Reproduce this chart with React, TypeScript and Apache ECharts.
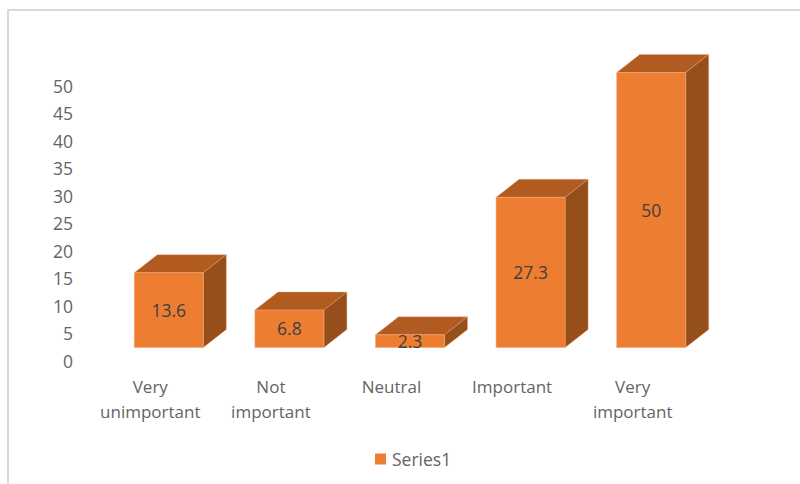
import React, { useEffect, useRef } from "react";
import * as echarts from "echarts";

const categories = ["Very\nunimportant", "Not\nimportant", "Neutral", "Important", "Very\nimportant"];
const seriesName = "Series1";
const seriesValues = [13.6, 6.8, 2.3, 27.3, 50];
const tickMax = 50;
const tickStep = 5;

const FONT = '"Open Sans", "Noto Sans", sans-serif';
const FRONT = "#ed7d31";
const TOP = "#b25b20";
const SIDE = "#964e1b";
const EDGE = "#f0a878";
const TICK_TEXT = "#646464";
const VALUE_TEXT = "#404040";

// Offsets of the front face from the axis position, and the box's depth.
const SHIFT_X = 18.5;
const SHIFT_Y = 13;
const DEPTH_X = 23;
const DEPTH_Y = 18;
const FRONT_WIDTH = 69;

function renderBox(params: any, api: any) {
  const [cx, baseY] = api.coord([api.value(0), 0]);
  const [, valueY] = api.coord([api.value(0), api.value(1)]);
  const x0 = cx + SHIFT_X - FRONT_WIDTH / 2;
  const x1 = x0 + FRONT_WIDTH;
  const y0 = valueY - SHIFT_Y;
  const y1 = baseY - SHIFT_Y;
  return {
    type: "group",
    children: [
      {
        type: "polygon",
        shape: { points: [[x0, y0], [x0 + DEPTH_X, y0 - DEPTH_Y], [x1 + DEPTH_X, y0 - DEPTH_Y], [x1, y0]] },
        style: { fill: TOP, stroke: EDGE, lineWidth: 0.4 },
      },
      {
        type: "polygon",
        shape: { points: [[x1, y0], [x1 + DEPTH_X, y0 - DEPTH_Y], [x1 + DEPTH_X, y1 - DEPTH_Y], [x1, y1]] },
        style: { fill: SIDE, stroke: EDGE, lineWidth: 0.4 },
      },
      {
        type: "rect",
        shape: { x: x0, y: y0, width: FRONT_WIDTH, height: y1 - y0 },
        style: { fill: FRONT, stroke: EDGE, lineWidth: 0.6 },
      },
      {
        type: "text",
        x: (x0 + x1) / 2,
        y: (y0 + y1) / 2 - 0.5,
        style: {
          text: String(api.value(1)),
          fill: VALUE_TEXT,
          font: `17.5px ${FONT}`,
          align: "center",
          verticalAlign: "middle",
        },
      },
    ],
  };
}

export default function App() {
  const ref = useRef<HTMLDivElement>(null);

  useEffect(() => {
    const chart = echarts.init(ref.current!, null, { renderer: "svg" });
    chart.setOption({
      animation: false,
      backgroundColor: "#ffffff",
      textStyle: { fontFamily: FONT },
      grid: { left: 90, width: 603, top: 85.5, height: 275 },
      xAxis: {
        type: "category",
        data: categories,
        axisLine: { show: false },
        axisTick: { show: false },
        axisLabel: { color: TICK_TEXT, fontFamily: FONT, fontSize: 17, lineHeight: 25, margin: 13, interval: 0 },
      },
      yAxis: {
        type: "value",
        min: 0,
        max: tickMax,
        interval: tickStep,
        axisLine: { show: false },
        axisTick: { show: false },
        splitLine: { show: false },
        axisLabel: { color: TICK_TEXT, fontFamily: FONT, fontSize: 17.5, margin: 17 },
      },
      legend: {
        show: true,
        left: 370,
        top: 445,
        icon: "rect",
        itemWidth: 11,
        itemHeight: 11,
        itemGap: 6,
        data: [seriesName],
        textStyle: { color: TICK_TEXT, fontFamily: FONT, fontSize: 17.5, padding: [0, 0, 0, 1] },
      },
      graphic: [
        {
          type: "polyline",
          silent: true,
          shape: { points: [[8, 484], [8, 10], [800, 10]] },
          style: { fill: "none", stroke: "#d9d9d9", lineWidth: 2 },
        },
      ],
      series: [
        {
          type: "custom",
          name: seriesName,
          clip: false,
          itemStyle: { color: FRONT },
          encode: { x: 0, y: 1 },
          data: seriesValues.map((v, i) => [i, v]),
          renderItem: renderBox,
        },
      ],
    });
    return () => chart.dispose();
  }, []);

  return <div ref={ref} style={{ position: "fixed", left: 0, top: 0, width: 800, height: 484 }} />;
}
